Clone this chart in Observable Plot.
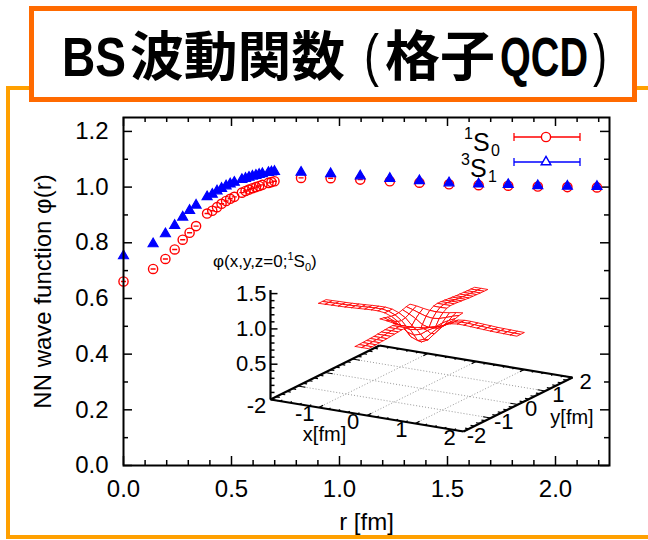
<!DOCTYPE html>
<html>
<head>
<meta charset="utf-8">
<script src="https://cdn.jsdelivr.net/npm/d3@7"></script>
<script src="https://cdn.jsdelivr.net/npm/@observablehq/plot@0.6"></script>
<style>
  body { margin: 0; background: #fff; }
  #page { position: relative; width: 648px; height: 540px; overflow: hidden; background: #fff;
          font-family: "Liberation Sans", Arial, sans-serif; }
  #frame { position: absolute; left: 6px; top: 86px; width: 800px; height: 453px;
           border: 4px solid #ffa000; box-sizing: border-box; }
  #titleBox { position: absolute; left: 29px; top: 6px; width: 608px; height: 96px; box-sizing: border-box;
              border: 5px solid #ff6a00; background: #fff; }
  .layer { position: absolute; left: 0; top: 0; pointer-events: none; }
  #insetTitle { position: absolute; left: 213px; top: 252px; font-size: 17px; white-space: nowrap; color: #000; }
  #insetTitle sup, #insetTitle sub { font-size: 11px; line-height: 0; }
</style>
</head>
<body>
<div id="page">
  <div id="frame"></div>
  <div id="titleBox"></div>
</div>
<script>
// NN wave function from lattice QCD, as a function of the relative distance r [fm]
const radius = [0.000, 0.137, 0.194, 0.237, 0.274, 0.306, 0.336, 0.387, 0.411, 0.433,
                0.454, 0.475, 0.494, 0.513, 0.548, 0.565, 0.581, 0.597, 0.613, 0.628,
                0.643, 0.671, 0.685, 0.699, 0.822, 0.959, 1.096, 1.233, 1.370, 1.507,
                1.644, 1.781, 1.918, 2.055, 2.192];
// 1S0 channel
const phi1S0 = [0.661, 0.706, 0.742, 0.776, 0.811, 0.836, 0.860, 0.905, 0.915, 0.928,
                0.940, 0.950, 0.958, 0.965, 0.980, 0.986, 0.991, 0.996, 1.000, 1.004,
                1.008, 1.015, 1.018, 1.021, 1.033, 1.032, 1.027, 1.021, 1.016, 1.010,
                1.007, 1.005, 1.002, 1.000, 0.999];
// 3S1 channel
const phi3S1 = [0.753, 0.796, 0.832, 0.862, 0.892, 0.916, 0.935, 0.965, 0.974, 0.986,
                0.995, 1.004, 1.011, 1.017, 1.027, 1.031, 1.035, 1.039, 1.042, 1.045,
                1.048, 1.052, 1.054, 1.056, 1.053, 1.048, 1.040, 1.031, 1.023, 1.015,
                1.011, 1.009, 1.005, 1.003, 1.002];

const yTicks = [0, 0.2, 0.4, 0.6, 0.8, 1.0, 1.2];
const yMinor = [0.1, 0.3, 0.5, 0.7, 0.9, 1.1];
const xTicks = [0, 0.5, 1.0, 1.5, 2.0];
const xMinor = [0.1, 0.2, 0.3, 0.4, 0.6, 0.7, 0.8, 0.9, 1.1, 1.2, 1.3, 1.4,
                1.6, 1.7, 1.8, 1.9, 2.1, 2.2];

// inset: phi(x, y, z=0; 1S0) on the lattice plane
const latticeSpacing = 0.137;          // fm
const insetXYTicks = [-2, -1, 0, 1, 2];
const insetZTicks = [0.5, 1.0, 1.5];

// heading, split by script so each run gets its own face
const headingParts = [
  {text: "BS",       x: 62,  len: 64,  size: 56, base: 76, weight: "bold",   family: '"Liberation Sans", sans-serif'},
  {text: "波動関数", x: 130, len: 215, size: 54, base: 76, weight: "bold",   family: '"Noto Sans CJK JP", sans-serif'},
  {text: "(",        x: 364, len: 15,  size: 58, base: 75, weight: "normal", family: '"Liberation Sans", sans-serif'},
  {text: "格子",     x: 385, len: 110, size: 54, base: 76, weight: "bold",   family: '"Noto Sans CJK JP", sans-serif'},
  {text: "QCD",      x: 500, len: 88,  size: 56, base: 76, weight: "bold",   family: '"Liberation Sans", sans-serif'},
  {text: ")",        x: 593, len: 14,  size: 58, base: 75, weight: "normal", family: '"Liberation Sans", sans-serif'}
];

const W = 648, H = 540;
const M = {top: 117, right: 39, bottom: 75, left: 123};
const X_DOMAIN = [0, 2.25], Y_DOMAIN = [0, 1.25];
const FONT = '"Liberation Sans", Arial, sans-serif';
const RED = "#ff0000", BLUE = "#0000ff";
const page = document.getElementById("page");
const titleBox = document.getElementById("titleBox");

const rows = radius.map((r, i) => ({r, s: phi1S0[i], t: phi3S1[i]}));

// tick lengths in pixels converted to data units
const pxX = px => px * (X_DOMAIN[1] - X_DOMAIN[0]) / (W - M.left - M.right);
const pxY = px => px * (Y_DOMAIN[1] - Y_DOMAIN[0]) / (H - M.top - M.bottom);

// open circle with the (tiny) error bar across it
const circleBar = {
  draw(ctx, size) {
    const r = Math.sqrt(size / Math.PI);
    ctx.moveTo(r, 0);
    ctx.arc(0, 0, r, 0, 2 * Math.PI);
    ctx.moveTo(-r * 0.55, 0);
    ctx.lineTo(r * 0.55, 0);
  }
};

const tickStyle = {stroke: "black", strokeWidth: 1.5};
const main = Plot.plot({
  width: W, height: H,
  marginTop: M.top, marginRight: M.right, marginBottom: M.bottom, marginLeft: M.left,
  style: {background: "transparent", fontFamily: FONT, fontSize: "24px", color: "black", overflow: "visible"},
  x: {domain: X_DOMAIN},
  y: {domain: Y_DOMAIN},
  marks: [
    // inward ticks on all four sides
    Plot.ruleY(yTicks, {y: d => d, x1: X_DOMAIN[0], x2: X_DOMAIN[0] + pxX(9), ...tickStyle}),
    Plot.ruleY(yMinor, {y: d => d, x1: X_DOMAIN[0], x2: X_DOMAIN[0] + pxX(5), ...tickStyle}),
    Plot.ruleY(yTicks, {y: d => d, x1: X_DOMAIN[1] - pxX(9), x2: X_DOMAIN[1], ...tickStyle}),
    Plot.ruleY(yMinor, {y: d => d, x1: X_DOMAIN[1] - pxX(5), x2: X_DOMAIN[1], ...tickStyle}),
    Plot.ruleX(xTicks, {x: d => d, y1: Y_DOMAIN[0], y2: Y_DOMAIN[0] + pxY(9), ...tickStyle}),
    Plot.ruleX(xMinor, {x: d => d, y1: Y_DOMAIN[0], y2: Y_DOMAIN[0] + pxY(5), ...tickStyle}),
    Plot.ruleX(xTicks, {x: d => d, y1: Y_DOMAIN[1] - pxY(9), y2: Y_DOMAIN[1], ...tickStyle}),
    Plot.ruleX(xMinor, {x: d => d, y1: Y_DOMAIN[1] - pxY(5), y2: Y_DOMAIN[1], ...tickStyle}),
    // data
    Plot.dot(rows, {x: "r", y: "s", symbol: circleBar, r: 4.6, stroke: RED, fill: "none", strokeWidth: 1.4}),
    Plot.dot(rows, {x: "r", y: "t", symbol: "triangle", r: 3.7, fill: BLUE, stroke: BLUE, strokeWidth: 1.2}),
    Plot.frame({stroke: "black", strokeWidth: 2}),
    Plot.axisY(yTicks, {tickSize: 0, tickPadding: 15, tickFormat: d3.format(".1f"), fontSize: 24, label: null}),
    Plot.axisX(xTicks, {tickSize: 0, tickPadding: 14, tickFormat: d3.format(".1f"), fontSize: 24, label: null}),
    Plot.text(["NN wave function φ(r)"], {text: d => d, frameAnchor: "left", textAnchor: "middle",
                                          lineAnchor: "middle", rotate: -90, dx: -80, fontSize: 24}),
    Plot.text(["r [fm]"], {text: d => d, frameAnchor: "bottom", textAnchor: "middle",
                           lineAnchor: "middle", dy: 57, fontSize: 24})
  ]
});
main.classList.add("layer");
page.insertBefore(main, titleBox);

// ---- inset: 3D view of phi(x,y,z=0;1S0) ----
// parallel projection of (x [fm], y [fm], phi) onto the page
const proj = (x, y, z) => [421 + 48.25 * x + 27.25 * y, 388 + 8 * x - 13.5 * y - 70.6 * z];

// phi(r) taken from the 1S0 points above (linear between neighbouring r)
function phiAt(r) {
  const i = d3.bisectRight(radius, r);
  if (i <= 0) return phi1S0[0];
  if (i >= radius.length) return phi1S0[radius.length - 1];
  const t = (r - radius[i - 1]) / (radius[i] - radius[i - 1]);
  return phi1S0[i - 1] * (1 - t) + phi1S0[i] * t;
}
// plotted region: the two axis strips plus a square around the origin
const inDomain = (i, j) => Math.abs(j) <= 1 || Math.abs(i) <= 1 || (Math.abs(i) <= 4 && Math.abs(j) <= 4);
const cells = [];
for (let i = -15; i < 15; i++) {
  for (let j = -16; j < 16; j++) {
    const corners = [[i, j], [i + 1, j], [i + 1, j + 1], [i, j + 1]];
    if (!corners.every(([a, b]) => inDomain(a, b))) continue;
    const cx = (i + 0.5) * latticeSpacing, cy = (j + 0.5) * latticeSpacing;
    cells.push({depth: 8 * cx - 13.5 * cy, corners});
  }
}
cells.sort((a, b) => a.depth - b.depth); // back to front
const meshPts = [];
cells.forEach((c, k) => {
  [...c.corners, c.corners[0]].forEach(([a, b]) => {
    const x = a * latticeSpacing, y = b * latticeSpacing;
    const [u, v] = proj(x, y, phiAt(Math.hypot(x, y)));
    meshPts.push({cell: k, u, v});
  });
});

const lo = insetXYTicks[0], hi = insetXYTicks[insetXYTicks.length - 1];
const seg = (a, b) => { const p = proj(...a), q = proj(...b); return {x1: p[0], y1: p[1], x2: q[0], y2: q[1]}; };
const border = [
  seg([lo, lo, 0], [hi, lo, 0]), seg([hi, lo, 0], [hi, hi, 0]),
  seg([hi, hi, 0], [lo, hi, 0]), seg([lo, hi, 0], [lo, lo, 0])
];
const inner = insetXYTicks.slice(1, -1);
const grid = inner.flatMap(k => [seg([k, lo, 0], [k, hi, 0]), seg([lo, k, 0], [hi, k, 0])]);
const edgeTickVals = d3.range(lo, hi + 1e-9, 0.2);
const edgeTicks = edgeTickVals.flatMap(t => {
  const len = Math.abs(t - Math.round(t)) < 1e-6 ? 0.16 : 0.08;
  return [
    seg([t, lo, 0], [t, lo + len, 0]), seg([t, hi, 0], [t, hi - len, 0]),
    seg([lo, t, 0], [lo + len, t, 0]), seg([hi, t, 0], [hi - len, t, 0])
  ];
});
const zTop = 1.55;
const zAxis = [seg([lo, lo, 0], [lo, lo, zTop])];
const zTickVals = d3.range(0.1, zTop, 0.1);
const zTicks = zTickVals.map(z => {
  const [u, v] = proj(lo, lo, z);
  const major = Math.abs(z * 2 - Math.round(z * 2)) < 1e-6;
  return {x1: u, y1: v, x2: u + (major ? 7 : 4), y2: v};
});

const inset = Plot.plot({
  width: W, height: H, margin: 0,
  style: {background: "transparent", fontFamily: FONT, color: "black", overflow: "visible"},
  x: {domain: [0, W], range: [0, W], axis: null},
  y: {domain: [0, H], range: [0, H], axis: null},
  marks: [
    Plot.link(grid, {x1: "x1", y1: "y1", x2: "x2", y2: "y2", stroke: "#999", strokeWidth: 1, strokeDasharray: "1,2"}),
    Plot.link(edgeTicks, {x1: "x1", y1: "y1", x2: "x2", y2: "y2", stroke: "black", strokeWidth: 1.2}),
    Plot.link(border, {x1: "x1", y1: "y1", x2: "x2", y2: "y2", stroke: "black", strokeWidth: 2.2}),
    Plot.link(zAxis, {x1: "x1", y1: "y1", x2: "x2", y2: "y2", stroke: "black", strokeWidth: 2.2}),
    Plot.link(zTicks, {x1: "x1", y1: "y1", x2: "x2", y2: "y2", stroke: "black", strokeWidth: 1.5}),
    Plot.line(meshPts, {x: "u", y: "v", z: "cell", fill: "white", stroke: RED, strokeWidth: 0.9}),
    Plot.text(insetZTicks, {x: z => proj(lo, lo, z)[0], y: z => proj(lo, lo, z)[1], text: d3.format(".1f"),
                            textAnchor: "end", dx: -4, fontSize: 22}),
    Plot.text(insetXYTicks, {x: k => proj(k, lo, 0)[0], y: k => proj(k, lo, 0)[1], text: d => String(d),
                             dx: -14, dy: 6, fontSize: 22}),
    Plot.text(insetXYTicks, {x: k => proj(hi, k, 0)[0], y: k => proj(hi, k, 0)[1], text: d => String(d),
                             dx: 13, dy: 4, fontSize: 22}),
    Plot.text(["x[fm]"], {x: () => proj(-0.88, lo, 0)[0], y: () => proj(-0.88, lo, 0)[1], text: d => d,
                          dy: 26, fontSize: 20}),
    Plot.text(["y[fm]"], {x: () => proj(hi, 0, 0)[0], y: () => proj(hi, 0, 0)[1], text: d => d,
                          dx: 54, dy: 13, fontSize: 20})
  ]
});
inset.classList.add("layer");
page.insertBefore(inset, titleBox);

const insetTitle = document.createElement("div");
insetTitle.id = "insetTitle";
insetTitle.innerHTML = "φ(x,y,z=0;<sup>1</sup>S<sub>0</sub>)";
page.appendChild(insetTitle);

// ---- key ----
const key = d3.select(page).append("svg").attr("class", "layer").attr("width", W).attr("height", H)
  .style("font-family", FONT);
const keyEntries = [
  {sup: "1", sub: "0", color: RED, lineY: 137, base: 151, textX: 464, shape: "circle"},
  {sup: "3", sub: "1", color: BLUE, lineY: 162, base: 177, textX: 461, shape: "triangle"}
];
const barX1 = 514, barX2 = 580, markX = 546;
keyEntries.forEach(e => {
  key.append("text").attr("x", e.textX).attr("y", e.base - 12).attr("font-size", 16).text(e.sup);
  key.append("text").attr("x", e.textX + 9).attr("y", e.base).attr("font-size", 25).text("S");
  key.append("text").attr("x", e.textX + 27).attr("y", e.base + 5).attr("font-size", 16).text(e.sub);
  key.append("line").attr("x1", barX1).attr("x2", barX2).attr("y1", e.lineY).attr("y2", e.lineY)
    .attr("stroke", e.color).attr("stroke-width", 1.3);
  [barX1, barX2].forEach(x => key.append("line").attr("x1", x).attr("x2", x)
    .attr("y1", e.lineY - 4).attr("y2", e.lineY + 4).attr("stroke", e.color).attr("stroke-width", 1.3));
  const sym = e.shape === "circle" ? d3.symbolCircle : d3.symbolTriangle;
  const size = e.shape === "circle" ? Math.PI * 4.6 * 4.6 : Math.PI * 3.6 * 3.6;
  key.append("path").attr("d", d3.symbol(sym, size)()).attr("transform", `translate(${markX},${e.lineY})`)
    .attr("fill", "white").attr("stroke", e.color).attr("stroke-width", 1.4);
});

// ---- heading: each run is squeezed horizontally to its slot ----
const heading = d3.select(page).append("svg").attr("class", "layer").attr("width", W).attr("height", 110);
headingParts.forEach(p => {
  const t = heading.append("text").attr("x", 0).attr("y", 0)
    .attr("font-family", p.family).attr("font-size", p.size).attr("font-weight", p.weight)
    .attr("fill", "black").text(p.text);
  const natural = t.node().getComputedTextLength() || p.len;
  t.attr("transform", `translate(${p.x},${p.base}) scale(${p.len / natural},1)`);
});
</script>
</body>
</html>
